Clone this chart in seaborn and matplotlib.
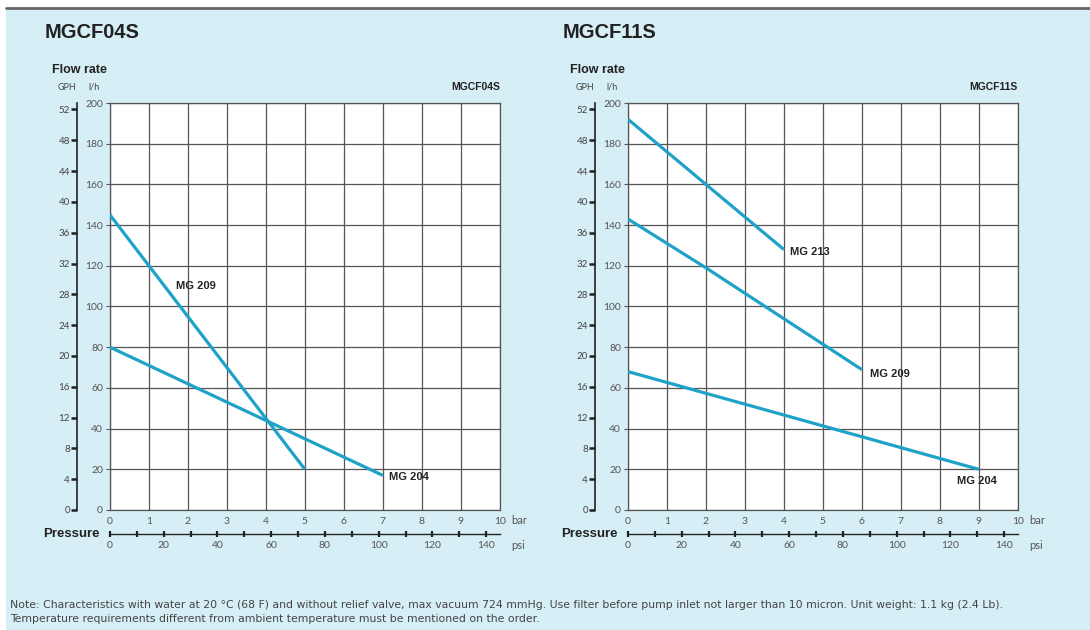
import numpy as np
import pandas as pd
import matplotlib
matplotlib.use("Agg")
import matplotlib.pyplot as plt
import matplotlib.ticker as ticker
from matplotlib.patches import Rectangle
from matplotlib.lines import Line2D
import seaborn as sns

''' Data read off the reference '''
# pressure in bar, flow in l/h
f04_209_bar = [0, 2, 4, 5]
f04_209_flow = [145, 95, 45, 20]
f04_204_bar = [0, 2, 4, 6, 7]
f04_204_flow = [80, 62, 44, 26, 17]

f11_213_bar = [0, 2, 4]
f11_213_flow = [192, 160, 128]
f11_209_bar = [0, 2, 4, 6]
f11_209_flow = [143, 119, 94, 69]
f11_204_bar = [0, 3, 6, 9]
f11_204_flow = [68, 52, 36, 20]

bar_ticks = list(range(0, 11))
lh_ticks = list(range(0, 201, 20))
gph_ticks = list(range(0, 53, 4))
psi_major = list(range(0, 141, 20))
psi_minor = list(range(10, 141, 20))

note_text = ("Note: Characteristics with water at 20 \u00b0C (68 F) and without relief valve, max vacuum 724 mmHg. "
             "Use filter before pump inlet not larger than 10 micron. Unit weight: 1.1 kg (2.4 Lb).\n"
             "Temperature requirements different from ambient temperature must be mentioned on the order.")

BG = '#d6eef5'
LINE = '#1fa2c8'
GRID = '#555555'
TXT = '#222222'
BOLD = ['Liberation Sans', 'DejaVu Sans']

sns.set_style('white')
plt.rcParams['font.family'] = ['Lato', 'DejaVu Sans']

fig = plt.figure(figsize=(10.9, 6.3), dpi=100)
fig.patch.set_facecolor('white')
fig.patches.append(Rectangle((6/1090, 0), 1, 1 - 8/630, transform=fig.transFigure,
                             facecolor=BG, edgecolor='none', zorder=-10))
fig.lines.append(Line2D([6/1090, 1], [1 - 7.5/630, 1 - 7.5/630], transform=fig.transFigure,
                        color='#666666', lw=2))


def make_df(series):
    rows = []
    for name, xs, ys in series:
        for x, y in zip(xs, ys):
            rows.append({'bar': x, 'flow': y, 'model': name})
    return pd.DataFrame(rows)


def draw_chart(left, title, series, labels):
    ax = fig.add_axes([left, 0.1905, 0.3575, 0.6460])
    ax.set_facecolor('white')
    df = make_df(series)
    pal = {s[0]: LINE for s in series}
    sns.lineplot(data=df, x='bar', y='flow', hue='model', palette=pal,
                 lw=2.3, legend=False, ax=ax, zorder=3, solid_capstyle='butt')
    ax.set_xlim(0, 10)
    ax.set_ylim(0, 200)
    ax.set_xticks(bar_ticks)
    ax.set_yticks(lh_ticks)
    ax.grid(True, color=GRID, lw=0.9)
    for sp in ax.spines.values():
        sp.set_visible(True)
        sp.set_color(GRID)
        sp.set_linewidth(0.9)
    ax.set_xlabel('')
    ax.set_ylabel('')
    ax.tick_params(axis='y', length=3, width=0.8, color=GRID, labelsize=7.5,
                   labelcolor='#555555', pad=2, left=True)
    ax.tick_params(axis='x', length=0, labelsize=7.5, labelcolor='#555555', pad=5)

    # GPH scale
    gph = ax.secondary_yaxis(-0.085, functions=(lambda v: v / 3.785, lambda v: v * 3.785))
    gph.set_yticks(gph_ticks)
    gph.tick_params(length=4, width=1.8, color=TXT, labelsize=7, labelcolor='#444444', pad=1)
    gph.spines['left'].set_color(TXT)
    gph.spines['left'].set_linewidth(1.2)

    # psi scale
    psi = ax.secondary_xaxis(-0.06, functions=(lambda v: v * 14.5038, lambda v: v / 14.5038))
    psi.set_xticks(psi_major)
    psi.xaxis.set_minor_locator(ticker.FixedLocator(psi_minor))
    psi.tick_params(which='both', direction='inout', length=5, width=1.6, color=TXT,
                    labelsize=7.5, labelcolor='#555555', pad=2)
    psi.spines['bottom'].set_color(TXT)
    psi.spines['bottom'].set_linewidth(1.0)

    ax.text(10.3, -0.027, 'bar', transform=ax.get_xaxis_transform(), fontsize=8,
            color='#555555', ha='left', va='center')
    ax.text(10.3, -0.088, 'psi', transform=ax.get_xaxis_transform(), fontsize=8,
            color='#555555', ha='left', va='center')
    ax.text(-0.098, -0.06, 'Pressure', transform=ax.transAxes, fontsize=9.5,
            fontweight='bold', family=BOLD, color=TXT, ha='center', va='center')

    # headings
    ax.text(-0.169, 1.174, title, transform=ax.transAxes, fontsize=14.5, fontweight='bold',
            family='Liberation Sans', color=TXT, ha='left', va='center')
    ax.text(-0.149, 1.081, 'Flow rate', transform=ax.transAxes, fontsize=9,
            fontweight='bold', family=BOLD, color=TXT, ha='left', va='center')
    ax.text(-0.135, 1.039, 'GPH', transform=ax.transAxes, fontsize=6.5,
            color='#444444', ha='left', va='center')
    ax.text(-0.055, 1.039, 'l/h', transform=ax.transAxes, fontsize=6.5,
            color='#444444', ha='left', va='center')
    ax.text(1.0, 1.039, title, transform=ax.transAxes, fontsize=7.5,
            fontweight='bold', family=BOLD, color=TXT, ha='right', va='center')

    for txt, x, y in labels:
        ax.text(x, y, txt, fontsize=8, fontweight='bold', family=BOLD, color=TXT,
                ha='left', va='center', zorder=4)
    return ax


draw_chart(110/1090, 'MGCF04S',
           [('MG 209', f04_209_bar, f04_209_flow), ('MG 204', f04_204_bar, f04_204_flow)],
           [('MG 209', 1.7, 110), ('MG 204', 7.15, 16)])
draw_chart(628/1090, 'MGCF11S',
           [('MG 213', f11_213_bar, f11_213_flow), ('MG 209', f11_209_bar, f11_209_flow),
            ('MG 204', f11_204_bar, f11_204_flow)],
           [('MG 213', 4.15, 127), ('MG 209', 6.2, 67), ('MG 204', 8.45, 14)])

fig.text(10/1090, 1 - 612/630, note_text, fontsize=7.8, color='#444444',
         family='DejaVu Sans', ha='left', va='center', linespacing=1.5)

fig.savefig('out.png', dpi=100, facecolor=fig.get_facecolor())
